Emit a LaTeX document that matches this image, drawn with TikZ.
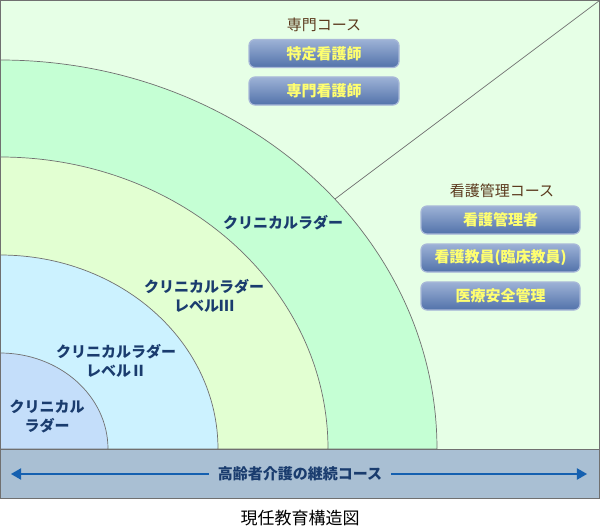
\documentclass[tikz,border=0pt]{standalone}
\usepackage{fontspec}
\newfontfamily\jpfont{Noto Sans CJK JP}
\usetikzlibrary{arrows}
\definecolor{outerbg}{HTML}{E6FFE6}
\definecolor{ringfour}{HTML}{C5FFD4}
\definecolor{ringthree}{HTML}{E2FFD2}
\definecolor{ringtwo}{HTML}{CCF2FF}
\definecolor{ringone}{HTML}{C4DEFA}
\definecolor{bandbg}{HTML}{A9BFD3}
\definecolor{edgegray}{HTML}{707070}
\definecolor{navy}{HTML}{1A3C6E}
\definecolor{titlebrown}{HTML}{5C3A1E}
\definecolor{boxtext}{HTML}{FFFF70}
\definecolor{boxtop}{HTML}{9DB2D6}
\definecolor{boxbot}{HTML}{5272AA}
\definecolor{boxedge}{HTML}{A8B8D8}
\definecolor{arrowblue}{HTML}{1560B0}
\tikzset{
  ringlabel/.style={text=navy, font=\jpfont\bfseries\fontsize{15}{19}\selectfont, align=center},
  coursetitle/.style={text=titlebrown, font=\jpfont\fontsize{15}{18}\selectfont},
  coursebox/.style={draw=boxedge, line width=1.2pt, rounded corners=6pt,
    top color=boxtop, bottom color=boxbot, text=boxtext,
    font=\jpfont\bfseries\fontsize{15}{18}\selectfont,
    minimum height=28pt, inner sep=0pt},
}
\begin{document}
\begin{tikzpicture}[x=1pt, y=-1pt, >=triangle 60]
 \useasboundingbox (0,0) rectangle (600,527);
 % background and rings
 \begin {scope}
  \fill [outerbg] (0,0) rectangle (600,449);
  \filldraw [fill=ringfour, draw=edgegray, line width=0.7pt] (0,449) -- (437,449) arc [start angle=0, end angle=-90, x radius=437, y radius=389] -- cycle;
  \filldraw [fill=ringthree, draw=edgegray, line width=0.7pt] (0,449) -- (328,449) arc [start angle=0, end angle=-90, x radius=328, y radius=292] -- cycle;
  \filldraw [fill=ringtwo, draw=edgegray, line width=0.7pt] (0,449) -- (218,449) arc [start angle=0, end angle=-90, x radius=218, y radius=194] -- cycle;
  \filldraw [fill=ringone, draw=edgegray, line width=0.7pt] (0,449) -- (108,449) arc [start angle=0, end angle=-90, x radius=108, y radius=96] -- cycle;
  \coordinate (split) at (335,199);
  \coordinate (corner) at (599.5,0.5);
  \draw [edgegray, line width=0.7pt] (split) -- (corner);
 \end {scope}
 % ring labels
 \node [ringlabel] (ladder) at (283,223) {クリニカルラダー};
 \node [ringlabel] (levelthree) at (204,296) {クリニカルラダー\\レベルⅢ};
 \node [ringlabel] (leveltwo) at (116,361) {クリニカルラダー\\レベルⅡ};
 \node [ringlabel] (levelone) at (47,416) {クリニカル\\ラダー};
 % specialist course
 \node [coursetitle] (spectitle) at (324,25) {専門コース};
 \node [coursebox, minimum width=150pt] (tokutei) at (324,53.5) {特定看護師};
 \node [coursebox, minimum width=150pt] (senmon) at (324,91) {専門看護師};
 % management course
 \node [coursetitle] (mgmttitle) at (502,191) {看護管理コース};
 \node [coursebox, minimum width=159pt] (manager) at (500.5,220) {看護管理者};
 \node [coursebox, minimum width=159pt] (teacher) at (500.5,258) {看護教員(臨床教員)};
 \node [coursebox, minimum width=159pt] (safety) at (500.5,296) {医療安全管理};
 % band
 \filldraw [fill=bandbg, draw=edgegray, line width=0.8pt] (0,449) rectangle (600,498);
 \node [text=navy, font=\jpfont\bfseries\fontsize{15}{18}\selectfont, inner xsep=9pt] (care) at (300,474) {高齢者介護の継続コース};
 \coordinate (leftend) at (11,474);
 \coordinate (rightend) at (587,474);
 \draw [->, arrowblue, line width=1.8pt] (care) -- (rightend);
 \draw [->, arrowblue, line width=1.8pt] (care) -- (leftend);
 \draw [edgegray, line width=1.2pt] (0.6,0.6) rectangle (599.4,498.4);
 % caption
 \node [font=\jpfont\fontsize{17}{20}\selectfont] (caption) at (300,518) {現任教育構造図};
\end{tikzpicture}
\end{document}
